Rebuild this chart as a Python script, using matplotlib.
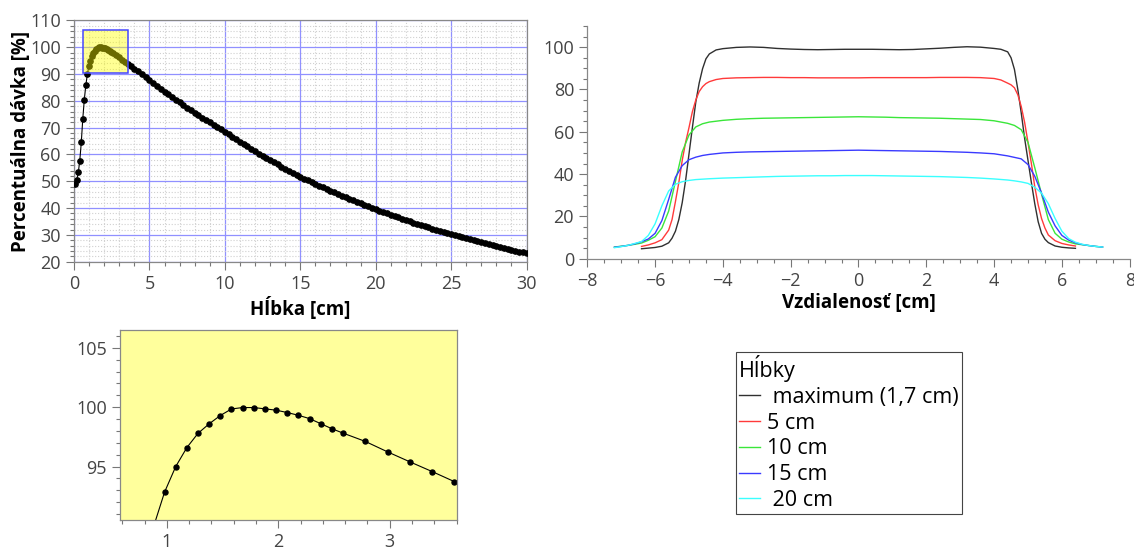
import numpy as np
import matplotlib
matplotlib.use("Agg")
import matplotlib.pyplot as plt
from matplotlib.patches import Rectangle
from matplotlib.ticker import MultipleLocator

plt.rcParams['font.family'] = ['Open Sans', 'DejaVu Sans']

# --- depth dose curve (percent depth dose) ---
depth_a = [0.08, 0.18, 0.28, 0.38, 0.48, 0.58, 0.68, 0.78, 0.88, 0.98, 1.08, 1.18, 1.28,
           1.38, 1.48, 1.58, 1.68, 1.78, 1.88, 1.98, 2.08, 2.18, 2.28, 2.38, 2.48, 2.58]
depth_b = [2.78, 2.98, 3.18, 3.38, 3.58, 3.78]
depth_c = list(np.arange(4.0, 30.01, 0.25))   # 2.5 mm steps deeper down
depth = depth_a + depth_b + depth_c

dose = [49.0, 50.6, 53.3, 57.7, 64.5, 73.4, 80.5, 85.8, 89.9, 92.85, 95.0, 96.6, 97.8,
        98.6, 99.3, 99.85, 99.97, 99.97, 99.86, 99.75, 99.55, 99.32, 99.04, 98.62, 98.19, 97.82,
        97.12, 96.24, 95.40, 94.58, 93.73, 92.9,
        92.0, 91.0, 89.9, 88.8, 87.7, 86.65, 85.6, 84.55, 83.5, 82.45, 81.4, 80.4,
        79.4, 78.45, 77.5, 76.55, 75.6, 74.7, 73.8, 72.9, 72.0, 71.1, 70.2, 69.35,
        68.5, 67.55, 66.6, 65.7, 64.8, 63.9, 63.0, 62.1, 61.2, 60.35, 59.5, 58.7,
        57.9, 57.1, 56.3, 55.5, 54.7, 53.95, 53.2, 52.45, 51.7, 51.0, 50.3, 49.65,
        49.0, 48.35, 47.7, 47.1, 46.5, 45.9, 45.3, 44.7, 44.1, 43.5, 42.9, 42.35,
        41.8, 41.25, 40.7, 40.15, 39.6, 39.05, 38.5, 38.0, 37.5, 37.0, 36.5, 36.0,
        35.5, 35.05, 34.6, 34.15, 33.7, 33.25, 32.8, 32.35, 31.9, 31.45, 31.0, 30.6,
        30.2, 29.8, 29.45, 29.05, 28.7, 28.35, 28.0, 27.65, 27.3, 26.95, 26.6, 26.25,
        25.9, 25.55, 25.2, 24.85, 24.5, 24.15, 23.8, 23.45, 23.1]

# zoomed region (also drawn as yellow box on the main plot)
zoom_x = [0.58, 3.6]
zoom_y = [90.5, 106.5]

# --- beam profiles at different depths ---
x_short = [-6.4, -6.2, -6.0, -5.8, -5.6, -5.5, -5.4, -5.3, -5.2, -5.1, -5.0, -4.9, -4.8, -4.7,
           -4.6, -4.5, -4.4, -4.2, -4.0,
           -3.6, -3.2, -2.8, -2.4, -2.0, -1.6, -1.2, -0.8, -0.4, 0.0, 0.4, 0.8, 1.2, 1.6, 2.0,
           2.4, 2.8, 3.2, 3.6,
           4.0, 4.2, 4.4, 4.5, 4.6, 4.7, 4.8, 4.9, 5.0, 5.1, 5.2, 5.3, 5.4, 5.5, 5.6, 5.8, 6.0,
           6.2, 6.4]
x_long = [-7.2, -7.0, -6.8, -6.6, -6.4, -6.2, -6.0, -5.8, -5.6, -5.4, -5.2, -5.0, -4.8, -4.6,
          -4.4, -4.0,
          -3.6, -3.2, -2.8, -2.4, -2.0, -1.6, -1.2, -0.8, -0.4, 0.0, 0.4, 0.8, 1.2, 1.6, 2.0,
          2.4, 2.8, 3.2, 3.6,
          4.0, 4.4, 4.6, 4.8, 5.0, 5.2, 5.4, 5.6, 5.8, 6.0, 6.2, 6.4, 6.6, 6.8, 7.0, 7.2]

prof_max = [4.7, 5.0, 5.3, 5.9, 7.5, 9.7, 13.0, 18.5, 26.5, 37.0, 49.5, 62.0, 74.0, 83.0,
            89.8, 94.5, 96.8, 98.7, 99.3,
            99.9, 100.1, 99.9, 99.4, 99.1, 98.9, 98.8, 98.9, 99.0, 99.0, 99.0, 98.9, 98.8, 98.9,
            99.2, 99.5, 99.9, 100.2, 100.0,
            99.4, 99.0, 97.8, 95.0, 89.5, 80.0, 69.0, 57.0, 46.5, 36.0, 26.0, 17.5, 12.0, 9.2,
            7.6, 6.0, 5.4, 5.1, 4.9]
prof_5 = [5.8, 6.5, 7.5, 9.0, 13.5, 18.5, 27.0, 36.0, 46.5, 55.0, 62.0, 69.5, 75.0, 79.0,
          81.3, 82.8, 83.7, 84.7, 85.2,
          85.5, 85.6, 85.7, 85.7, 85.6, 85.6, 85.5, 85.5, 85.5, 85.5, 85.6, 85.6, 85.6, 85.6,
          85.6, 85.7, 85.7, 85.7, 85.6,
          85.2, 84.5, 83.0, 82.2, 80.8, 77.5, 72.0, 64.5, 55.0, 45.0, 34.0, 25.5, 19.0, 14.5,
          11.2, 8.5, 7.2, 6.5, 6.0]
prof_10 = [5.5, 5.9, 6.3, 6.8, 7.4, 8.7, 10.4, 14.5, 22.5, 36.5, 50.5, 58.5, 62.3, 63.8,
           64.6, 65.4,
           65.9, 66.2, 66.4, 66.5, 66.6, 66.7, 66.8, 66.9, 67.0, 67.1, 67.0, 66.9, 66.7, 66.6,
           66.5, 66.4, 66.2, 66.0, 65.8,
           65.2, 64.0, 63.0, 61.0, 55.0, 43.0, 30.5, 18.5, 12.0, 9.2, 7.9, 7.0, 6.6, 6.2, 5.8, 5.5]
prof_15 = [5.4, 5.8, 6.3, 7.0, 8.0, 9.3, 12.0, 18.0, 28.0, 38.5, 44.0, 46.8, 48.0, 48.8,
           49.3, 50.0,
           50.3, 50.5, 50.6, 50.7, 50.8, 50.9, 51.0, 51.1, 51.2, 51.3, 51.2, 51.1, 51.0, 50.9,
           50.8, 50.7, 50.5, 50.3, 50.0,
           49.6, 48.6, 47.9, 47.2, 44.5, 39.0, 31.0, 22.0, 15.5, 11.0, 8.8, 7.5, 6.7, 6.2, 5.8, 5.5]
prof_20 = [5.2, 5.7, 6.3, 7.2, 8.1, 11.0, 16.5, 25.0, 32.0, 35.2, 36.4, 37.0, 37.4, 37.6,
           37.8, 38.1,
           38.3, 38.5, 38.7, 38.9, 39.0, 39.1, 39.2, 39.2, 39.3, 39.3, 39.3, 39.2, 39.1, 39.0,
           38.9, 38.8, 38.6, 38.4, 38.1,
           37.7, 37.2, 36.8, 36.3, 35.6, 33.8, 31.0, 26.0, 19.0, 13.0, 9.5, 7.8, 6.8, 6.2, 5.8, 5.5]

legend_labels = [" maximum (1,7 cm)", "5 cm", "10 cm", "15 cm", " 20 cm"]
colors = ["#303030", "#ff3a3a", "#3ae63a", "#3a3aff", "#3affff"]

TICK_GREY = "#777777"
LABEL_GREY = "#444444"


def style_ticks(ax):
    """ Outward grey ticks like the original plotting tool """
    ax.tick_params(which='both', direction='out', color=TICK_GREY, labelcolor=LABEL_GREY,
                   labelsize=13, width=0.8)
    ax.tick_params(which='major', length=6)
    ax.tick_params(which='minor', length=3)
    ax.tick_params(top=False, right=False, which='both')
    for s in ax.spines.values():
        s.set_color("#888888")
        s.set_linewidth(0.9)


fig = plt.figure(figsize=(11.34, 5.49), dpi=100)

# Main depth dose plot
ax1 = fig.add_axes([0.0653, 0.5233, 0.3990, 0.4394])
ax1.plot(depth, dose, color='black', lw=0.8, marker='o', ms=3.8, zorder=3)
ax1.set_xlim(0, 30)
ax1.set_ylim(20, 110)
ax1.xaxis.set_major_locator(MultipleLocator(5))
ax1.xaxis.set_minor_locator(MultipleLocator(1))
ax1.yaxis.set_major_locator(MultipleLocator(10))
ax1.yaxis.set_minor_locator(MultipleLocator(2))
ax1.grid(which='major', color='#9090ff', lw=0.9)
ax1.grid(which='minor', color='#d0d0d0', ls=':', lw=0.8)
ax1.set_axisbelow(True)
ax1.add_patch(Rectangle((zoom_x[0], zoom_y[0]), zoom_x[1] - zoom_x[0], zoom_y[1] - zoom_y[0],
                        facecolor=(1, 1, 0, 0.42), edgecolor='#4646ff', lw=1.1, zorder=5))
style_ticks(ax1)
ax1.set_xlabel("Hĺbka [cm]", fontsize=13.5, fontweight='bold', labelpad=3)
ax1.set_ylabel("Percentuálna dávka [%]", fontsize=13.5, fontweight='bold', labelpad=-1)

# Zoomed inset of the dose maximum
ax3 = fig.add_axes([0.1058, 0.0528, 0.2969, 0.3461], facecolor='#ffff9c')
ax3.plot(depth, dose, color='black', lw=0.8, marker='o', ms=3.6)
ax3.set_xlim(zoom_x)
ax3.set_ylim(zoom_y)
ax3.xaxis.set_major_locator(MultipleLocator(1))
ax3.xaxis.set_minor_locator(MultipleLocator(0.2))
ax3.yaxis.set_major_locator(MultipleLocator(5))
ax3.yaxis.set_minor_locator(MultipleLocator(1))
style_ticks(ax3)

# Beam profiles
ax2 = fig.add_axes([0.5179, 0.5288, 0.4783, 0.4238])
profiles = [(x_short, prof_max), (x_short, prof_5), (x_long, prof_10),
            (x_long, prof_15), (x_long, prof_20)]
handles = []
for (xs, ys), c in zip(profiles, colors):
    h, = ax2.plot(xs, ys, color=c, lw=1.0)
    handles.append(h)
ax2.set_xlim(-8, 8)
ax2.set_ylim(0, 110)
ax2.xaxis.set_major_locator(MultipleLocator(2))
ax2.xaxis.set_minor_locator(MultipleLocator(0.5))
ax2.yaxis.set_major_locator(MultipleLocator(20))
ax2.yaxis.set_minor_locator(MultipleLocator(5))
ax2.spines['top'].set_visible(False)
ax2.spines['right'].set_visible(False)
style_ticks(ax2)
ax2.set_xlabel("Vzdialenosť [cm]", fontsize=13.5, fontweight='bold', labelpad=2)

leg = fig.legend(handles, legend_labels, title="Hĺbky", loc='upper left',
                 bbox_to_anchor=(0.6488, 0.3588), fontsize=15.5, title_fontsize=15.5,
                 alignment='left', fancybox=False, framealpha=1, edgecolor='#444444',
                 handlelength=1.0, handletextpad=0.3, labelspacing=0.22, borderpad=0.15,
                 borderaxespad=0)
leg.get_frame().set_linewidth(0.8)

fig.savefig("out.png", dpi=100)
